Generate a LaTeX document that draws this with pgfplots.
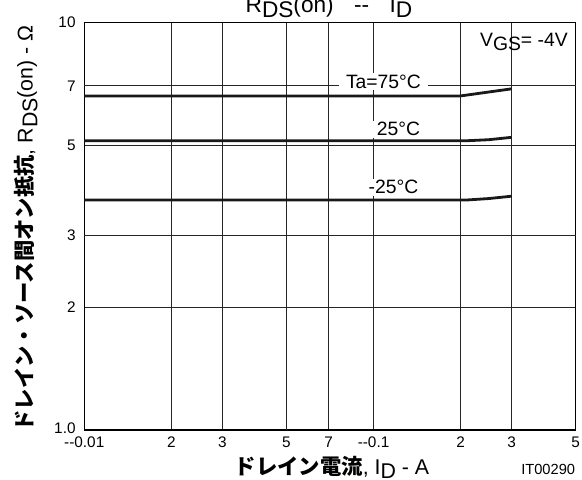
\documentclass[border=0pt]{standalone}
\usepackage{fontspec}
\setmainfont{Liberation Sans}
\newfontfamily\jp{Noto Sans CJK JP}
\usepackage{pgfplots}
\pgfplotsset{compat=1.18}
\newcommand\sub[1]{\raisebox{-0.22em}{#1}}
\newcommand\fs[1]{\fontsize{#1}{#1}\selectfont}

\begin{document}
\begin{tikzpicture}[x=1pt,y=1pt]
\begin{axis}[
  at={(63.2pt,36.75pt)}, anchor=south west,
  scale only axis, width=368.6pt, height=305.5pt,
  xmode=log, ymode=log,
  xmin=0.01, xmax=0.5, ymin=1, ymax=10,
  xtick={0.01,0.02,0.03,0.07,0.1,0.2,0.3,0.5},
  xticklabels={-{}-0.01,2,3,7,-{}-0.1,2,3,5},
  extra x ticks={0.05}, extra x tick labels={5},
  extra x tick style={grid style={black!45, line width=0.8pt}},
  ytick={1,2,5,10},
  yticklabels={\raisebox{3.5pt}{1.0},2,5,10},
  extra y ticks={3,7}, extra y tick labels={3,7},
  extra y tick style={grid style={black!45, line width=0.8pt}},
  grid=major,
  major grid style={black!85, line width=0.75pt},
  major tick length=0pt,
  axis line style={line width=1.1pt},
  ticklabel style={font=\fs{11.5pt}},
  xticklabel style={yshift=-1.5pt},
  yticklabel style={xshift=-3pt},
  /pgf/number format/assume math mode=true,
]
% Ta = 75 C
\addplot[line width=2.1pt, black!90] coordinates {(0.01,6.61) (0.2,6.61) (0.3,6.88)};
% Ta = 25 C
\addplot[line width=2.1pt, black!90] coordinates {(0.01,5.13) (0.21,5.13) (0.25,5.16) (0.3,5.23)};
% Ta = -25 C
\addplot[line width=2.1pt, black!90] coordinates {(0.01,3.67) (0.21,3.67) (0.25,3.70) (0.3,3.75)};
\end{axis}

% curve labels and condition
\begin{scope}[every node/.style={fill=white, inner xsep=5pt, inner ysep=1.2pt, text depth=0pt, text height=1em, font=\fs{14.5pt}, anchor=base}]
\node at (287.6,293.0) {Ta=75°C};
\node at (298.9,257.25) {25°C};
\node at (295.1,213.75) {-25°C};
\end{scope}
\node[anchor=base east, inner sep=0pt, font=\fs{14.5pt}] at (426,324.2) {V\sub{GS}= -4V};

% title
\node[anchor=base, inner sep=0pt, font=\fs{17pt}] at (246.75,349.5)
  {R\sub{DS}(on)\hspace{0.9em}-{}-\hspace{0.9em}I\sub{D}};

% axis labels
\node[anchor=base, inner sep=0pt, font=\fs{16pt}] at (249,3.75)
  {{\jp\bfseries ドレイン電流}, I\sub{D} - A};
\node[anchor=base, rotate=90, inner sep=0pt, font=\fs{16pt}] at (24.5,187.9)
  {{\jp\bfseries ドレイン・ソース間オン抵抗}, R\sub{DS}(on) - Ω};
\node[anchor=base east, inner sep=0pt, font=\fs{11pt}] at (431.5,3.75) {IT00290};

\pgfresetboundingbox
\path[use as bounding box] (0,0) rectangle (436.5,359.25);
\end{tikzpicture}
\end{document}
